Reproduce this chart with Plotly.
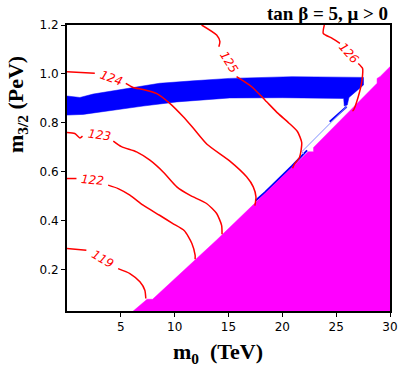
import plotly.graph_objects as go

# contour lines of m_h (GeV), None = gap where the label sits
c119_x = [0, 1.8, None, 4.75, 5.84, 6.77, 7.23, 7.32]
c119_y = [0.287, 0.28, None, 0.205, 0.185, 0.151, 0.117, 0.083]
c122_x = [0, 0.88, None, 3.82, 4.75, 5.84, 7.07, 8.6, 9.8, 10.9, 11.6, 11.9, 11.9]
c122_y = [0.573, 0.573, None, 0.546, 0.532, 0.505, 0.464, 0.423, 0.39, 0.36, 0.308, 0.26, 0.243]
c123_x = [0, 0.72, 1.2, 1.44, None, 4.3, 5.06, 6.46, 7.7, 8.93, 10.2, 11.4, 12.96, 13.9, 14.36, 14.4]
c123_y = [0.761, 0.757, 0.739, 0.746, None, 0.726, 0.703, 0.682, 0.648, 0.60, 0.539, 0.505, 0.471, 0.43, 0.382, 0.345]
c124_x = [0, 2.58, None, 5.46, 6.14, 7.07, 8.3, 9.55, 10.8, 11.7, 13.0, 15.1, 16.68, 17.3, 17.55, 17.45]
c124_y = [1.009, 1.003, None, 0.962, 0.945, 0.937, 0.921, 0.88, 0.825, 0.78, 0.713, 0.645, 0.58, 0.539, 0.498, 0.462]
c125_x = [12.5, 13.9, 14.2, 14.1, None, 15.75, 17.15, 18.4, 19.6, 20.6, 21.4, 21.8, 21.6, 21.1, 20.95]
c125_y = [1.2, 1.159, 1.132, 1.111, None, 0.989, 0.948, 0.893, 0.839, 0.8, 0.765, 0.72, 0.66, 0.63, 0.615]
c126_x = [23.9, 23.8, 24.6, 25.35, None, 27.05, 27.45, 27.4, 27.05, 26.6, 26.5]
c126_y = [1.2, 1.166, 1.146, 1.125, None, 1.043, 1.023, 0.975, 0.907, 0.852, 0.85]

contours = [(c119_x, c119_y), (c122_x, c122_y), (c123_x, c123_y),
            (c124_x, c124_y), (c125_x, c125_y), (c126_x, c126_y)]

# contour labels
lab_text = ["119", "122", "123", "124", "125", "126"]
lab_x = [3.28, 2.37, 2.98, 4.1, 15.0, 26.15]
lab_y = [0.243, 0.566, 0.750, 0.985, 1.047, 1.084]
lab_ang = [30, 5, 8, 20, 58, 48]

# blue band (dark matter relic density)
band_x = [0, 1.2, 2.43, 5.5, 8.6, 11.7, 15.1, 20.9, 27.54, 27.54, 26.75, 26.19, 26.03,
          25.75, 25.7, 20.0, 15.1, 10.2, 7.07, 4.0, 1.5, 0]
band_y = [0.91, 0.904, 0.918, 0.941, 0.962, 0.972, 0.982, 0.989, 0.986, 0.955, 0.927, 0.904, 0.873,
          0.869, 0.90, 0.903, 0.902, 0.886, 0.869, 0.85, 0.835, 0.832]
strip_x = [17.5, 18.4, 20.9, 22.3]
strip_y = [0.482, 0.517, 0.624, 0.688]
strip2_x = [24.4, 25.97]
strip2_y = [0.805, 0.866]
thin_x = [25.97, 21.8, 22.26]
thin_y = [0.866, 0.682, 0.662]

# excluded region
excl_x = [5.3, 6.14, 7.44, 7.95, 13.9, 22.4, 22.9, 22.9, 24.9, 28.8, 28.8, 29.07, 30, 30]
excl_y = [0.0, 0.032, 0.08, 0.08, 0.322, 0.682, 0.682, 0.70, 0.79, 0.962, 0.982, 0.989, 1.03, 0.0]

fig = go.Figure()
fig.add_trace(go.Scatter(x=band_x, y=band_y, fill="toself", fillcolor="#0000ff",
                         line=dict(color="#0000ff", width=0.5), mode="lines"))
fig.add_trace(go.Scatter(x=strip_x, y=strip_y, mode="lines", line=dict(color="#0000ff", width=2)))
fig.add_trace(go.Scatter(x=strip2_x, y=strip2_y, mode="lines", line=dict(color="#0000ff", width=2)))
fig.add_trace(go.Scatter(x=thin_x, y=thin_y, mode="lines", line=dict(color="#7f8fff", width=1)))
fig.add_trace(go.Scatter(x=excl_x, y=excl_y, fill="toself", fillcolor="#ff00ff",
                         line=dict(color="#ff00ff", width=0.5), mode="lines"))
for cx, cy in contours:
    fig.add_trace(go.Scatter(x=cx, y=cy, mode="lines", line=dict(color="#ff0000", width=1.5,
                                                                  shape="spline", smoothing=0.6)))

for t, x, y, a in zip(lab_text, lab_x, lab_y, lab_ang):
    fig.add_annotation(x=x, y=y, text=t, showarrow=False, textangle=a,
                       font=dict(family="DejaVu Sans", size=12, color="#ff0000", style="italic"))

serif = "Liberation Serif"
fig.add_annotation(xref="paper", yref="paper", x=1.0, y=1.0, xanchor="right", yanchor="bottom",
                   text="<b>tan β = 5, μ > 0</b>", showarrow=False, yshift=-1,
                   font=dict(family=serif, size=19, color="black"))
fig.add_annotation(xref="paper", yref="paper", x=0.467, y=0, xanchor="center", yanchor="middle",
                   text="<b>m<sub>0</sub>  (TeV)</b>", showarrow=False, yshift=-42,
                   font=dict(family=serif, size=22, color="black"))
fig.add_annotation(xref="paper", yref="paper", x=0, y=0.72, xanchor="center", yanchor="middle",
                   text="<b>m<sub>3/2</sub> (PeV)</b>", showarrow=False, xshift=-50, textangle=-90,
                   font=dict(family=serif, size=22, color="black"))

axis_common = dict(showline=True, linecolor="black", linewidth=2, mirror=True, ticks="outside",
                   ticklen=4, tickwidth=1, tickcolor="black", showgrid=False, zeroline=False,
                   automargin=False,
                   tickfont=dict(family="DejaVu Sans", size=12, color="black"))
fig.update_xaxes(range=[0, 30], tickvals=[5, 10, 15, 20, 25, 30], **axis_common)
fig.update_yaxes(range=[0.032, 1.2], tickvals=[0.2, 0.4, 0.6, 0.8, 1.0, 1.2],
                 ticktext=["0.2", "0.4", "0.6", "0.8", "1.0", "1.2"], **axis_common)
fig.update_layout(width=399, height=375, showlegend=False, plot_bgcolor="white",
                  paper_bgcolor="white", margin=dict(l=67, r=9, t=25, b=64, autoexpand=False))
fig.write_html("out.html", config={"displayModeBar": False},
               post_script="document.body.style.margin='0';")
